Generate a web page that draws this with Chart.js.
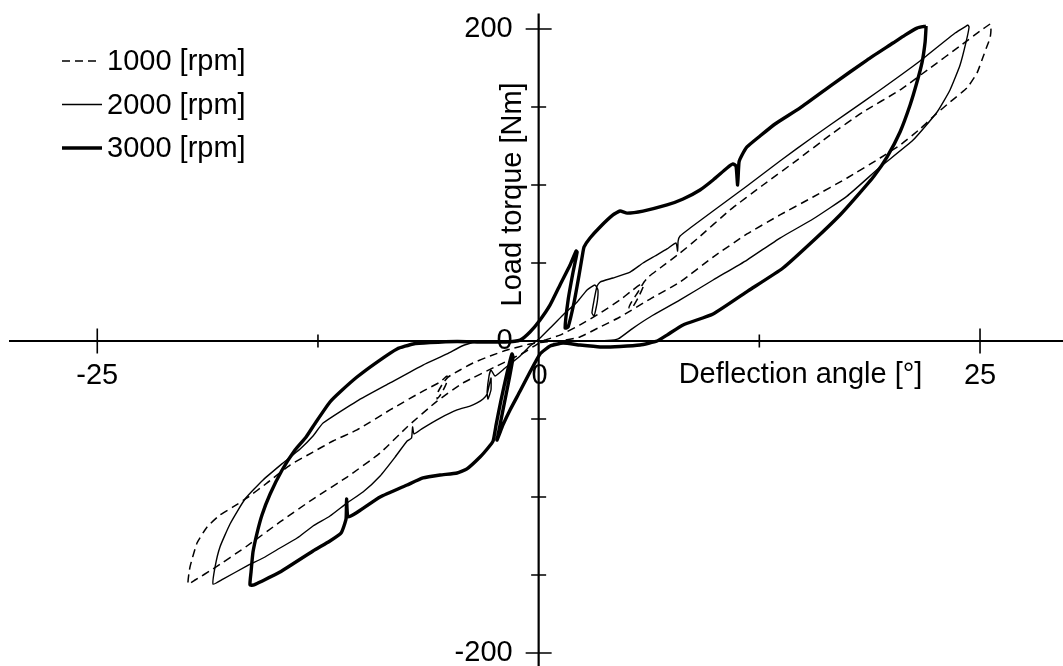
<!DOCTYPE html>
<html>
<head>
<meta charset="utf-8">
<title>Load torque vs deflection angle</title>
<script src="https://cdn.jsdelivr.net/npm/chart.js@4.4.1/dist/chart.umd.min.js"></script>
<style>
  html, body { margin: 0; padding: 0; background: #fff; }
  canvas { display: block; }
</style>
</head>
<body>
<canvas id="loopChart" width="1063" height="666"></canvas>
<script>
// hysteresis loops: deflection angle [deg] vs load torque [Nm]
const seriesLabels = ['1000 [rpm]', '2000 [rpm]', '3000 [rpm]'];

const angle1000 = [25.57, 25.00, 23.87, 22.17, 20.47, 18.37, 16.51, 14.64, 12.71, 10.84, 8.97, 8.01, 6.88, 6.20,
  5.97, 5.63, 5.23, 5.12, 5.29, 5.63, 5.91, 5.80, 5.18, 4.61, 3.48, 2.34, 1.21, 0.36, 0.02,
  -0.88, -2.36, -4.28, -5.75, -7.45, -8.98, -10.85, -12.78, -14.65, -16.52, -18.44, -19.46, -19.86,
  -19.75, -19.35, -18.78, -18.05, -17.31, -16.52, -15.38, -14.08, -12.78, -11.65, -10.29, -8.42, -6.55,
  -5.58, -5.19, -5.24, -5.53, -5.75, -5.70, -5.41, -5.13, -4.45, -3.72, -2.75, -1.79, -0.49, 0.36,
  1.21, 2.34, 3.48, 4.61, 6.31, 8.01, 9.88, 11.80, 13.67, 15.54, 17.47, 19.34, 20.47, 21.60, 22.45,
  23.30, 24.26, 24.83, 25.17, 25.40, 25.57, 25.62, 25.57];
const torque1000 = [203.2, 198.7, 189.1, 175.0, 160.9, 146.8, 132.0, 116.0, 100.0, 84.0, 65.4, 56.4, 46.8, 41.0,
  37.8, 31.4, 24.4, 21.2, 21.2, 27.6, 34.6, 36.5, 31.4, 26.3, 17.9, 10.3, 3.8, 0.6, -1.3,
  -7.7, -16.0, -26.9, -38.5, -55.1, -71.8, -87.2, -101.3, -116.0, -131.4, -146.1, -153.2, -155.8,
  -144.9, -129.5, -119.2, -111.5, -106.4, -100.6, -91.0, -79.5, -71.2, -64.1, -57.0, -44.2, -32.1,
  -26.3, -22.4, -27.6, -34.0, -37.2, -32.7, -26.9, -23.1, -18.6, -14.1, -9.6, -5.8, -1.9, -0.6,
  0, 2.6, 9.0, 15.4, 26.9, 37.8, 53.8, 68.6, 80.8, 92.3, 104.5, 117.3, 125.6, 135.9, 144.9,
  153.2, 162.2, 171.8, 182.0, 189.1, 194.2, 199.4, 203.2];

const angle2000 = [24.32, 23.59, 21.60, 19.34, 17.47, 15.54, 13.67, 11.80, 9.88, 8.58, 8.01, 7.90, 7.87, 7.78,
  7.27, 6.59, 5.91, 5.18, 4.21, 3.48, 3.31, 3.14, 3.02, 3.14, 3.31, 3.36, 3.19, 2.74, 2.18, 1.38,
  0.65, 0.08, -0.49, -1.05, -1.90, -2.47, -2.70, -2.81, -2.92, -2.87, -2.70, -2.70, -2.92, -3.15,
  -3.49, -3.89, -4.62, -5.58, -6.55, -7.06, -7.14, -7.20, -7.45, -8.13, -8.98, -9.95, -10.85,
  -11.82, -12.78, -13.68, -14.65, -15.61, -16.52, -17.88, -18.44, -18.33, -18.05, -17.48, -16.63,
  -15.61, -14.48, -13.51, -12.78, -12.21, -10.29, -8.42, -6.55, -5.19, -4.34, -3.60, -2.19, 0.08,
  2.34, 3.93, 4.50, 5.35, 6.31, 8.01, 9.88, 11.80, 13.67, 15.54, 17.47, 19.34, 21.21, 22.57, 23.30,
  23.87, 24.21, 24.38, 24.32];
const torque2000 = [202.6, 197.4, 179.5, 160.9, 146.1, 130.8, 115.4, 99.4, 83.3, 72.4, 67.3, 64.1, 57.7, 62.8,
  59.0, 54.5, 50.0, 44.2, 40.4, 37.8, 35.3, 26.3, 17.9, 16.0, 24.4, 32.7, 35.9, 32.7, 25.0, 16.7,
  8.3, 1.9, -3.2, -9.6, -17.3, -22.4, -18.6, -22.4, -32.7, -37.2, -31.4, -23.7, -34.0, -37.2,
  -39.7, -41.7, -44.2, -49.4, -55.8, -59.6, -55.1, -62.2, -64.1, -74.4, -86.5, -96.8, -103.8,
  -112.2, -118.6, -126.3, -132.7, -139.1, -144.2, -152.6, -155.8, -144.9, -132.0, -117.3, -101.3,
  -89.1, -78.2, -69.2, -60.9, -52.6, -38.5, -26.9, -15.4, -8.3, -3.2, -0.6, 0, 0,
  0, 0.3, 1.3, 8.3, 15.4, 26.3, 39.1, 51.9, 66.0, 78.2, 92.9, 111.5, 128.8, 146.8, 160.9,
  176.9, 191.7, 201.3, 202.6];

const angle3000 = [21.94, 21.43, 20.75, 20.07, 18.60, 16.67, 14.81, 13.39, 12.54, 11.80, 11.52, 11.35, 11.27,
  11.18, 11.01, 10.67, 9.88, 9.14, 8.18, 7.27, 5.91, 5.01, 4.61, 4.21, 3.48, 2.91, 2.57, 2.51, 2.29,
  2.01, 1.67, 1.50, 1.67, 1.95, 2.18, 2.12, 1.78, 1.21, 0.65, 0.08, -0.49, -1.05, -1.90, -3.32,
  -4.62, -6.15, -7.11, -8.02, -9.15, -10.29, -11.25, -11.82, -12.61, -13.17, -13.80, -14.53, -15.21,
  -15.67, -15.95, -16.18, -16.29, -16.35, -16.12, -15.78, -14.65, -12.78, -11.82, -11.19, -10.91,
  -10.88, -10.80, -10.34, -8.98, -7.45, -6.55, -5.58, -4.62, -4.06, -3.32, -2.87, -2.58, -2.41,
  -2.13, -1.79, -1.51, -1.45, -1.68, -2.02, -2.30, -2.36, -2.02, -1.62, -1.05, -0.49, 0.08, 0.65,
  1.38, 2.34, 3.48, 4.61, 5.74, 6.71, 7.27, 8.18, 9.88, 11.86, 13.84, 15.66, 17.07, 18.03, 19.00,
  19.73, 20.47, 21.04, 21.43, 21.72, 21.89, 21.94, 21.94];
const torque3000 = [201.9, 200.6, 196.1, 191.0, 180.1, 164.7, 149.4, 139.1, 131.4, 124.4, 119.2, 114.7, 100.0,
  112.2, 113.5, 110.9, 103.2, 96.8, 91.0, 87.2, 83.3, 82.0, 83.3, 80.8, 73.1, 66.0, 60.3, 57.0, 42.3,
  25.0, 9.0, 8.3, 26.3, 44.2, 57.0, 57.7, 48.7, 35.9, 23.1, 13.5, 5.8, 0.6, -0.6, -0.6,
  -0.3, -1.0, -1.9, -5.1, -13.5, -23.1, -32.7, -39.1, -51.9, -61.5, -69.9, -82.7, -98.1,
  -111.5, -123.1, -135.3, -148.1, -156.4, -156.4, -154.5, -148.1, -134.6, -128.2, -123.1, -114.1,
  -101.3, -112.8, -110.3, -100.0, -92.3, -87.8, -85.9, -84.6, -82.0, -74.4, -68.6, -64.1, -53.8,
  -37.8, -20.5, -8.3, -10.3, -25.0, -44.2, -60.3, -63.5, -53.8, -44.2, -32.1, -19.9, -8.3, -3.2,
  -1.3, -2.6, -3.8, -3.5, -2.6, 0, 3.8, 10.3, 17.3, 32.1, 46.8, 65.4, 80.8, 92.9, 105.8,
  117.9, 134.0, 151.3, 166.0, 178.8, 191.7, 200.6, 201.9];

// axes
const xTickValues = [-25, -12.5, 12.5, 25];
const xLabelValues = [-25, 0, 25];
const yTickValues = [-200, -150, -100, -50, 50, 100, 150, 200];
const yLabelValues = [-200, 0, 200];

const FONT = '29px "Liberation Sans", Arial, sans-serif';

function toPoints(xs, ys) {
    return xs.map((v, i) => ({ x: v, y: ys[i] }));
}

// axes crossing at the origin, drawn from the chart's own scales
const crossAxes = {
    id: 'crossAxes',
    beforeDatasetsDraw(chart) {
        const { ctx, scales: { x, y } } = chart;
        const x0 = x.getPixelForValue(0);
        const y0 = y.getPixelForValue(0);
        ctx.save();
        ctx.strokeStyle = '#000';
        ctx.lineWidth = 2.2;
        ctx.beginPath();
        ctx.moveTo(x.getPixelForValue(-30), y0);
        ctx.lineTo(chart.width, y0);
        ctx.moveTo(x0, y.getPixelForValue(210));
        ctx.lineTo(x0, chart.height);
        ctx.stroke();

        ctx.lineWidth = 1.6;
        ctx.beginPath();
        xTickValues.forEach(v => {
            const len = Math.abs(v) === 25 ? 12.5 : 6.5;
            const px = x.getPixelForValue(v);
            ctx.moveTo(px, y0 - len);
            ctx.lineTo(px, y0 + len);
        });
        yTickValues.forEach(v => {
            const len = Math.abs(v) === 200 ? 13 : 7.5;
            const py = y.getPixelForValue(v);
            ctx.moveTo(x0 - len, py);
            ctx.lineTo(x0 + len, py);
        });
        ctx.stroke();
        ctx.restore();
    },
    afterDatasetsDraw(chart) {
        const { ctx, scales: { x, y } } = chart;
        const x0 = x.getPixelForValue(0);
        const y0 = y.getPixelForValue(0);
        ctx.save();
        ctx.fillStyle = '#000';
        ctx.font = FONT;
        ctx.textBaseline = 'middle';

        // tick labels
        ctx.textAlign = 'center';
        xLabelValues.forEach(v => {
            ctx.fillText(String(v), x.getPixelForValue(v) + (v === 0 ? 1 : 0), y0 + 35);
        });
        ctx.textAlign = 'right';
        yLabelValues.forEach(v => {
            ctx.fillText(String(v), x0 - 26, y.getPixelForValue(v));
        });

        // axis titles
        ctx.textAlign = 'left';
        ctx.fillText('Deflection angle [°]', x.getPixelForValue(7.93), y0 + 34);
        ctx.save();
        ctx.translate(x0 - 18, y.getPixelForValue(94));
        ctx.rotate(-Math.PI / 2);
        ctx.textAlign = 'center';
        ctx.textBaseline = 'alphabetic';
        ctx.fillText('Load torque [Nm]', 0, 0);
        ctx.restore();

        // legend
        chart.data.datasets.forEach((ds, i) => {
            const ly = 61 + i * 43.5;
            ctx.save();
            ctx.strokeStyle = '#000';
            ctx.lineWidth = ds.borderWidth;
            ctx.setLineDash(ds.borderDash || []);
            ctx.beginPath();
            ctx.moveTo(62, ly);
            ctx.lineTo(i === 0 ? 97 : 102, ly);
            ctx.stroke();
            ctx.restore();
            ctx.textAlign = 'left';
            ctx.fillText(ds.label, 107, ly + 1);
        });
        ctx.restore();
    }
};

const datasets = [
    { label: seriesLabels[0], data: toPoints(angle1000, torque1000), borderWidth: 1.5, borderDash: [8, 5] },
    { label: seriesLabels[1], data: toPoints(angle2000, torque2000), borderWidth: 1.4 },
    { label: seriesLabels[2], data: toPoints(angle3000, torque3000), borderWidth: 3.4 }
].map(ds => Object.assign({
    showLine: true,
    borderColor: '#000',
    backgroundColor: '#000',
    pointRadius: 0,
    tension: 0.15,
    fill: false,
    clip: false
}, ds));

new Chart(document.getElementById('loopChart'), {
    type: 'scatter',
    data: { datasets },
    options: {
        responsive: false,
        animation: false,
        layout: { padding: { left: 9, right: 0, top: 29, bottom: 13 } },
        scales: {
            x: { type: 'linear', min: -30, max: 29.7, display: false },
            y: { type: 'linear', min: -200, max: 200, display: false }
        },
        plugins: { legend: { display: false }, tooltip: { enabled: false } }
    },
    plugins: [crossAxes]
});
</script>
</body>
</html>
